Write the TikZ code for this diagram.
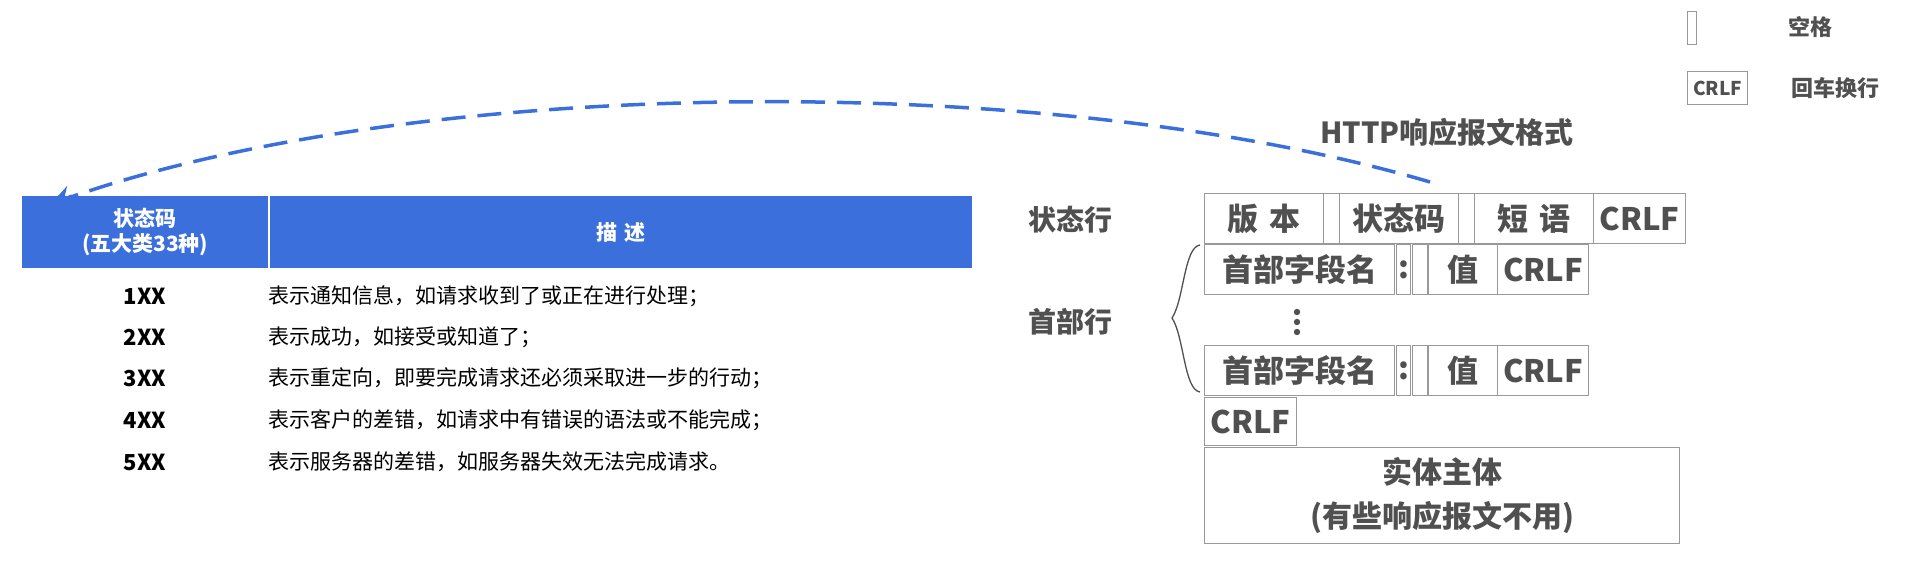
\documentclass[tikz,border=0pt]{standalone}
\usepackage{fontspec}
\setmainfont{Noto Sans CJK SC}
\usetikzlibrary{arrows.meta}
\definecolor{gtxt}{HTML}{505050}
\definecolor{hblue}{HTML}{3A6FDC}
\tikzset{
 fbox/.style={draw=gray!80,line width=1.2pt,inner sep=0pt,text=gtxt,font=\fontsize{31}{33}\selectfont\bfseries},
 lbl/.style={text=gtxt,font=\fontsize{28}{30}\selectfont\bfseries},
 code/.style={font=\fontsize{22}{24}\selectfont\bfseries,text=black},
 desc/.style={font=\fontsize{21}{24}\selectfont,text=black,anchor=west,inner sep=0pt},
}
\newcommand{\bx}[5]{\node[fbox,minimum width=#3-#1,minimum height=#4-#2,anchor=north west] (#5) at (#1,#2) {};}
\begin{document}
\begin{tikzpicture}[x=1pt,y=-1pt]
\useasboundingbox (0,0) rectangle (1914,568);
% legend
\bx{1687}{11}{1696}{44}{lg1}
\node[lbl,font=\fontsize{22}{24}\selectfont\bfseries] (lgt1) at (1810,27) {空格};
\node[fbox,font=\fontsize{19}{20}\selectfont\bfseries,minimum width=60,minimum height=33,anchor=north west] (lg2) at (1687,71) {CRLF};
\node[lbl,font=\fontsize{22}{24}\selectfont\bfseries] (lgt2) at (1835,88) {回车换行};
% title
\node[lbl,font=\fontsize{29}{30}\selectfont\bfseries] (title) at (1447,132) {HTTP响应报文格式};
\node[lbl] (sl) at (1070,220) {状态行};
\node[lbl] (hl) at (1070,322) {首部行};
% row1
\bx{1204}{193}{1323}{243}{v}\node[fbox,draw=none] at (v) {版\,\,本};
\bx{1323}{193}{1339}{243}{s1}
\bx{1339}{193}{1458}{243}{sc}\node[fbox,draw=none] at (sc) {状态码};
\bx{1458}{193}{1474}{243}{s2}
\bx{1474}{193}{1593}{243}{ph}\node[fbox,draw=none] at (ph) {短\,\,语};
\bx{1593}{193}{1685}{243}{c1}\node[fbox,draw=none] at (c1) {CRLF};
% header rows
\foreach \y/\n in {244/a,345/b}{
 \bx{1204}{\y}{1394}{\y+50}{hn\n}\node[fbox,draw=none] at (hn\n) {首部字段名};
 \bx{1396}{\y}{1410}{\y+50}{co\n}\node[fbox,draw=none] at (co\n) {:};
 \bx{1412}{\y}{1427}{\y+50}{sp\n}
 \bx{1428}{\y}{1497}{\y+50}{va\n}\node[fbox,draw=none] at (va\n) {值};
 \bx{1497}{\y}{1588}{\y+50}{cr\n}\node[fbox,draw=none] at (cr\n) {CRLF};
}
\foreach \yy in {312,322,332} \fill[gtxt] (1297,\yy) circle (3.2);
\bx{1204}{397}{1296}{445}{c3}\node[fbox,draw=none] at (c3) {CRLF};
\bx{1204}{447}{1679}{543}{body}
\node[fbox,draw=none,align=center,font=\fontsize{30}{44}\selectfont\bfseries] at (body) {实体主体\\(有些响应报文不用)};
\draw[gtxt,line width=1.3pt] (1200,245) .. controls (1184,247) and (1184,300) .. (1172,318) .. controls (1184,336) and (1184,390) .. (1200,392);
% table
\node[fill=hblue,minimum width=246,minimum height=72,anchor=north west,inner sep=0] (th1) at (22,196) {};
\node[fill=hblue,minimum width=702,minimum height=72,anchor=north west,inner sep=0] (th2) at (270,196) {};
\draw[white,line width=2pt] (269,196) -- (269,268);
\node[white,font=\fontsize{21}{25}\selectfont\bfseries,align=center] at (th1) {状态码\\(五大类33种)};
\node[white,font=\fontsize{21}{24}\selectfont\bfseries] at (th2) {描\,\,述};
\foreach \c/\y/\t in {1XX/296/表示通知信息，如请求收到了或正在进行处理；,2XX/337/表示成功，如接受或知道了；,3XX/378/表示重定向，即要完成请求还必须采取进一步的行动；,4XX/420/表示客户的差错，如请求中有错误的语法或不能完成；,5XX/462/表示服务器的差错，如服务器失效无法完成请求。}{
 \node[code] (k\c) at (145,\y) {\c};
 \node[desc] (d\c) at (268,\y) {\t};
}
% arrow
\coordinate (as) at (1430,182);
\coordinate (ae) at (48,207);
\draw[hblue,line width=3.5pt,dash pattern=on 24pt off 12pt] (as) .. controls (1050,70) and (420,75) .. ([shift={(20,-9)}]ae);
\draw[hblue,line width=3.5pt,-{Stealth[length=26pt,width=22pt]}] ([shift={(24,-11)}]ae) -- (ae);
\end{tikzpicture}
\end{document}
